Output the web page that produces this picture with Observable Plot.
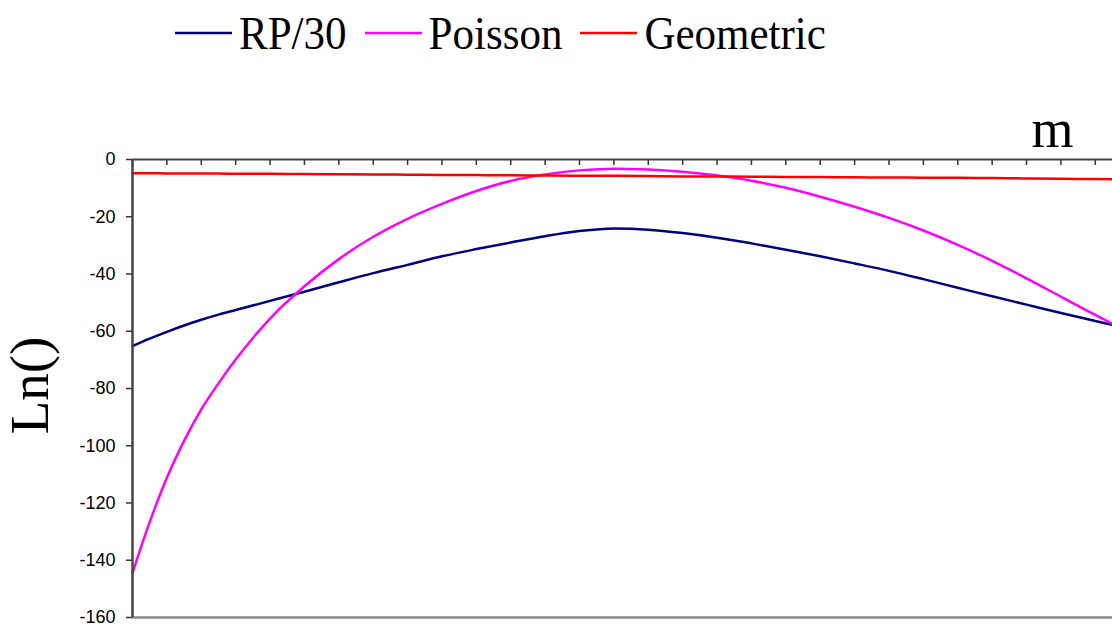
<!DOCTYPE html>
<html>
<head>
<meta charset="utf-8">
<script src="https://cdn.jsdelivr.net/npm/d3@7"></script>
<script src="https://cdn.jsdelivr.net/npm/@observablehq/plot@0.6"></script>
<style>
  html, body { margin: 0; padding: 0; background: #fff; }
  #wrap { width: 1112px; height: 626px; overflow: hidden; position: relative; }
  #legend { height: 70px; box-sizing: border-box; padding-left: 175px; padding-bottom: 4px;
            display: flex; align-items: center; font-family: "Liberation Serif", "Times New Roman", serif;
            font-size: 43px; color: #000; }
  .item { display: flex; align-items: center; margin-right: 18px; }
  .item svg { margin-right: 7px; }
  .item span { display: inline-block; transform: scaleY(1.1); }
</style>
</head>
<body>
<div id="wrap">
  <div id="legend"></div>
  <div id="chart"></div>
</div>
<script>
// x positions (category index along m)
const xs = [0, 0.5, 1, 1.5, 2, 2.5, 3, 4, 5, 6, 7, 8, 9, 10, 11, 12, 13, 14, 15, 16, 17, 18, 19, 20, 21, 22, 23, 24, 25, 26, 27, 28, 28.5];
const rp30 = [-65.2, -62.6, -60.2, -58.0, -56.0, -54.2, -52.6, -49.4, -46.2, -42.9, -39.7, -36.8, -33.8, -31.3, -29.0, -26.8, -25.0, -24.1, -24.5, -25.7, -27.3, -29.3, -31.5, -33.8, -36.3, -38.9, -41.8, -44.8, -47.8, -50.7, -53.6, -56.4, -57.8];
const poisson = [-144.4, -126.7, -111.2, -98.3, -87.3, -78.2, -69.9, -55.6, -44.3, -34.8, -27.0, -20.7, -15.5, -11.0, -7.5, -5.2, -3.8, -3.2, -3.5, -4.3, -5.6, -7.4, -9.9, -13.0, -16.5, -20.4, -24.8, -29.8, -35.4, -41.5, -47.9, -54.3, -57.4];
const geometric = [-4.8, -4.83, -4.85, -4.88, -4.9, -4.93, -4.95, -5.0, -5.1, -5.15, -5.2, -5.3, -5.4, -5.45, -5.5, -5.6, -5.65, -5.7, -5.8, -5.9, -5.95, -6.0, -6.1, -6.15, -6.2, -6.3, -6.35, -6.4, -6.5, -6.6, -6.7, -6.85, -6.9];

const seriesNames = ["RP/30", "Poisson", "Geometric"];
const seriesColors = ["#000080", "#FF00FF", "#FF0000"];
const seriesValues = [rp30, poisson, geometric];

const yTicks = [0, -20, -40, -60, -80, -100, -120, -140, -160];
const xTicks = d3.range(0, 29);
const xLabel = "m";
const yLabel = "Ln()";

const rows = [];
seriesNames.forEach((name, s) => {
  xs.forEach((x, i) => rows.push({series: name, x, y: seriesValues[s][i]}));
});

// legend
const legend = document.getElementById("legend");
seriesNames.forEach((name, i) => {
  const item = document.createElement("div");
  item.className = "item";
  item.innerHTML = `<svg width="57" height="6"><line x1="0" x2="57" y1="3" y2="3" stroke="${seriesColors[i]}" stroke-width="2.5"/></svg><span>${name}</span>`;
  legend.appendChild(item);
});

const chart = Plot.plot({
  width: 1112,
  height: 556,
  marginLeft: 132,
  marginRight: 0,
  marginTop: 89,
  marginBottom: 9,
  style: {background: "#fff", overflow: "visible"},
  x: {domain: [0, 28.5], axis: null},
  y: {domain: [-160, 0], axis: null},
  color: {domain: seriesNames, range: seriesColors},
  marks: [
    Plot.axisY({ticks: yTicks, tickSize: 6, tickPadding: 11, fontSize: 18,
                fontFamily: "Liberation Sans, Arial, sans-serif", stroke: "#333", strokeWidth: 1.5,
                color: "#000", label: null, tickFormat: d => String(d)}),
    Plot.ruleY([-160], {stroke: "#888", strokeWidth: 2.5}),
    Plot.tickX(xTicks, {x: d => d, insetBottom: 452, stroke: "#333", strokeWidth: 1.5}),
    Plot.line(rows, {x: "x", y: "y", z: "series", stroke: "series", strokeWidth: 2.5, curve: "monotone-x"}),
    Plot.ruleY([0], {stroke: "#444", strokeWidth: 2}),
    Plot.ruleX([0], {stroke: "#444", strokeWidth: 2.5}),
    Plot.text([xLabel], {frameAnchor: "top-right", dx: -39, dy: -13, textAnchor: "end", lineAnchor: "bottom",
                         fontSize: 54, fontFamily: "Liberation Serif, Times New Roman, serif", fill: "#000"}),
    Plot.text([yLabel], {frameAnchor: "left", rotate: -90, dx: -102, dy: -3, textAnchor: "middle", lineAnchor: "middle",
                         fontSize: 55, fontFamily: "Liberation Serif, Times New Roman, serif", fill: "#000"})
  ]
});
document.getElementById("chart").appendChild(chart);
</script>
</body>
</html>
